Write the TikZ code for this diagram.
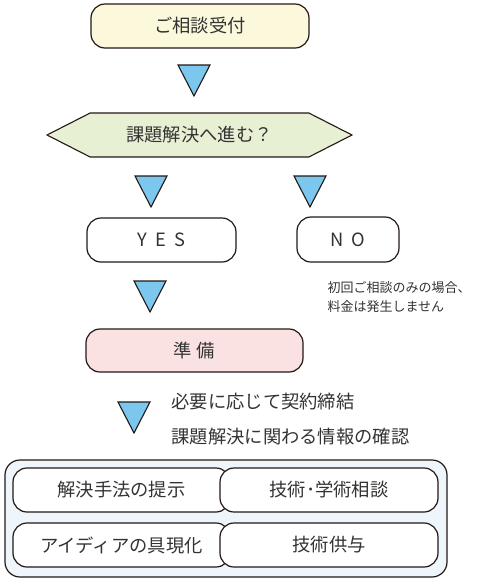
\documentclass[tikz,border=0pt]{standalone}
\usepackage{fontspec}
\usepackage{tikz}
\usetikzlibrary{shapes.symbols,positioning}
\newfontfamily\jp{Noto Sans CJK JP}
\definecolor{FlowInk}{HTML}{231815}
\definecolor{FlowText}{HTML}{333333}
\definecolor{FlowCream}{HTML}{FCF8DC}
\definecolor{FlowLeaf}{HTML}{E8F0D4}
\definecolor{FlowRose}{HTML}{FBE2E2}
\definecolor{FlowSky}{HTML}{7BC7EE}
\definecolor{FlowMist}{HTML}{EEF5FB}

\begin{document}
\begin{tikzpicture}[
  x=1pt, y=-1pt,
  pill/.style={
    draw=FlowInk, line width=1.2pt, rounded corners=14pt,
    font=\jp\fontsize{18.3}{21}\selectfont, text=FlowText, fill=white
  },
  hexa/.style={
    draw=FlowInk, line width=1.1pt, fill=FlowLeaf, shape=signal,
    signal to=west and east, signal pointer angle=54,
    minimum width=305pt, minimum height=44pt, inner sep=0pt,
    font=\jp\fontsize{18.3}{21}\selectfont, text=FlowText
  },
  note/.style={font=\jp\fontsize{13}{19}\selectfont, text=FlowText, align=left},
  downtri/.pic={
    \draw[draw=FlowInk, line width=1.1pt, fill=FlowSky, line join=miter]
      (-16,-15) -- (16,-15) -- (0,16) -- cycle;
  }
]
\useasboundingbox (0,0) rectangle (477,582);

% Start
\node[pill, fill=FlowCream, minimum width=218pt, minimum height=44pt] (start) at (200,26)
  {ご相談受付};
\pic at (194,80) {downtri};

% Decision
\node[hexa] (ask) at (199.5,135) {課題解決へ進む？};
\pic at (151,191) {downtri};
\pic at (310,191) {downtri};

% Answers
\node[pill, minimum width=149pt, minimum height=44pt] (yes) at (161.5,240)
  {\addfontfeatures{LetterSpace=45}YES};
\node[pill, minimum width=102pt, minimum height=45pt] (no) at (348,239.5)
  {\addfontfeatures{LetterSpace=45}NO};
\node[note, anchor=west] (free) at (324,297.5)
  {初回ご相談のみの場合、\\料金は発生しません};
\pic at (150,296) {downtri};

% Preparation
\node[pill, fill=FlowRose, minimum width=217pt, minimum height=43pt] (prep) at (194.5,350.5)
  {\addfontfeatures{LetterSpace=25}準備};
\pic at (134,417) {downtri};
\node[note, font=\jp\fontsize{18.3}{35}\selectfont, anchor=west] (steps) at (168,419.5)
  {必要に応じて契約締結\\課題解決に関わる情報の確認};

% Services
\node[draw=FlowInk, line width=1.2pt, rounded corners=15pt, fill=FlowMist,
  minimum width=442pt, minimum height=117pt] (menu) at (226,518.5) {};
\node[pill, minimum width=217pt, minimum height=44pt] (s1) at (121.5,490) {解決手法の提示};
\node[pill, minimum width=217pt, minimum height=44pt] (s3) at (121.5,545) {アイディアの具現化};
\node[pill, minimum width=218pt, minimum height=44pt] (s2) at (329,490) {技術･学術相談};
\node[pill, minimum width=218pt, minimum height=44pt] (s4) at (329,545) {技術供与};

\end{tikzpicture}
\end{document}
